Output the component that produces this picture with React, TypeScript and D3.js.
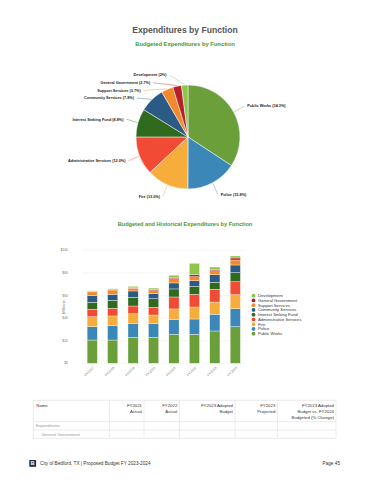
import React from 'react';
import * as d3 from 'd3';

const categories = ['Public Works', 'Police', 'Fire', 'Administrative Services', 'Interest Sinking Fund', 'Community Services', 'Support Services', 'General Government', 'Development'];
const colors = ['#6a9f3a', '#3b88b8', '#f7ad3c', '#f14b35', '#2f6a1f', '#2b5a85', '#f18a2d', '#b7202a', '#8dc54b'];
const piePercents = [34.3, 15.8, 13.0, 12.0, 8.8, 7.8, 3.7, 2.7, 2.0];
const pieLabelPcts = ['34.3%', '15.8%', '13.0%', '12.0%', '8.8%', '7.8%', '3.7%', '2.7%', '2%'];

const years = ['FY2017', 'FY2018', 'FY2019', 'FY2020', 'FY2021', 'FY2022', 'FY2023', 'FY2024'];
const publicWorks = [20.6, 20.6, 23.0, 23.0, 25.6, 25.6, 28.6, 32.4];
const police = [11.8, 12.7, 12.4, 12.0, 13.3, 13.6, 14.8, 15.9];
const fire = [8.8, 8.6, 8.5, 7.7, 9.2, 10.6, 10.8, 12.4];
const admin = [6.6, 6.8, 6.8, 6.9, 10.6, 11.3, 11.3, 11.5];
const interest = [6.2, 7.1, 7.7, 7.6, 7.1, 7.0, 6.2, 8.0];
const community = [5.8, 5.2, 5.6, 4.4, 5.3, 5.0, 6.7, 6.8];
const support = [3.4, 3.9, 2.4, 2.6, 3.8, 3.5, 3.5, 4.4];
const genGov = [0.5, 0.6, 0.9, 0.9, 1.2, 1.8, 1.3, 1.8];
const development = [0.4, 0.5, 0.8, 1.5, 1.8, 10.1, 2.0, 1.8];
const seriesValues = [publicWorks, police, fire, admin, interest, community, support, genGov, development];
const yTicks = [0, 20, 40, 60, 80, 100];

const tableHeaders = [['Name'], ['FY2021', 'Actual'], ['FY2022', 'Actual'], ['FY2023 Adopted', 'Budget'], ['FY2023', 'Projected'], ['FY2023 Adopted', 'Budget vs. FY2024', 'Budgeted (% Change)']];

const FONT = "'Liberation Sans', Arial, Helvetica, sans-serif";

function Pie() {
  const cx = 188, cy = 137, r = 52, labelR = 65, gap = 7.7;
  const arcs = d3.pie<number>().sort(null).value(d => d)(piePercents);
  const arcGen = d3.arc<d3.PieArcDatum<number>>().innerRadius(0).outerRadius(r);
  const items = arcs.map((a, i) => {
    const mid = (a.startAngle + a.endAngle) / 2;
    const side = Math.sin(mid) >= 0 ? 1 : -1;
    return { i, mid, side, y: cy - labelR * Math.cos(mid), x: 0 };
  });
  const left = items.filter(d => d.side < 0).sort((a, b) => a.y - b.y);
  let prev = cy - r - 10 - gap;
  left.forEach(d => { d.y = Math.max(d.y, prev + gap); prev = d.y; });
  items.forEach(d => {
    const dy = d.y - cy;
    d.x = cx + d.side * Math.sqrt(Math.max(0, labelR * labelR - dy * dy));
  });
  return (
    <g>
      <g transform={`translate(${cx},${cy})`}>
        {arcs.map((a, i) => (
          <path key={i} d={arcGen(a) || ''} fill={colors[i]} stroke="#fff" strokeWidth={0.5} />
        ))}
      </g>
      {items.map(d => {
        const px = cx + (r + 0.5) * Math.sin(d.mid);
        const py = cy - (r + 0.5) * Math.cos(d.mid);
        return (
          <g key={d.i}>
            <line x1={px} y1={py} x2={d.x - d.side * 1} y2={d.y} stroke={colors[d.i]} strokeWidth={0.4} />
            <text x={d.x + d.side * 2} y={d.y} dy="0.35em" textAnchor={d.side > 0 ? 'start' : 'end'}
              fontSize={3.8} fontWeight="bold" fill="#222" fontFamily={FONT}>
              {`${categories[d.i]} (${pieLabelPcts[d.i]})`}
            </text>
          </g>
        );
      })}
    </g>
  );
}

function Bars() {
  const x = d3.scaleBand<string>().domain(years).range([82, 245.5]).paddingInner(0.5).paddingOuter(0.25);
  const y = d3.scaleLinear().domain([0, 100]).range([363.3, 250.3]);
  const rows = years.map((yr, j) => {
    const o: any = { year: yr };
    categories.forEach((c, i) => { o[c] = seriesValues[i][j]; });
    return o;
  });
  const stack = d3.stack<any>().keys(categories)(rows);
  return (
    <g fontFamily={FONT}>
      {yTicks.map(t => (
        <g key={t}>
          <line x1={82} x2={245.5} y1={y(t)} y2={y(t)} stroke="#ececec" strokeWidth={0.5} />
          <text x={68} y={y(t)} dy="0.35em" textAnchor="end" fontSize={3.4} fill="#777">{`$${t}`}</text>
        </g>
      ))}
      <text transform={`translate(64,307) rotate(-90)`} textAnchor="middle" dy="0.35em" fontSize={4} fill="#666">Millions</text>
      {stack.map((s, i) => (
        <g key={i} fill={colors[i]}>
          {s.map((d, j) => (
            <rect key={j} x={x(years[j])} width={x.bandwidth()} y={y(d[1])} height={Math.max(0, y(d[0]) - y(d[1]))}
              stroke="#fff" strokeWidth={0.35} />
          ))}
        </g>
      ))}
      {years.map(yr => {
        const bx = (x(yr) || 0) + x.bandwidth() / 2;
        return (
          <text key={yr} transform={`translate(${bx + 2},${368}) rotate(-45)`} textAnchor="end" fontSize={3.4} fill="#777">{yr}</text>
        );
      })}
      {[...categories].reverse().map((c, k) => {
        const i = categories.length - 1 - k;
        const ly = 295.7 + k * 4.75;
        return (
          <g key={c}>
            <circle cx={253.5} cy={ly} r={1.9} fill={colors[i]} />
            <text x={258} y={ly} dy="0.35em" fontSize={4.2} fill="#333">{c}</text>
          </g>
        );
      })}
    </g>
  );
}

function Table() {
  const left = 33.3, right = 336;
  const cols = [left, 109.3, 144, 179.3, 235, 277.3, right];
  const rowsY = [400.3, 421.7, 430, 438.3];
  const lh = 6;
  return (
    <g fontFamily={FONT}>
      {rowsY.map((ry, i) => (
        <line key={i} x1={left} x2={right} y1={ry} y2={ry} stroke="#d4d4d4" strokeWidth={0.5} />
      ))}
      {cols.map((cx, i) => (
        <line key={i} x1={cx} x2={cx} y1={rowsY[0]} y2={rowsY[3]} stroke="#d4d4d4" strokeWidth={0.5} />
      ))}
      {tableHeaders.map((h, i) => (
        <text key={i} x={i === 0 ? cols[0] + 3 : cols[i + 1] - 2} y={405.7} dy="0.35em" textAnchor={i === 0 ? 'start' : 'end'} fontSize={4.3} fill="#333">
          {h.map((ln, k) => <tspan key={k} x={i === 0 ? cols[0] + 3 : cols[i + 1] - 2} dy={k === 0 ? '0.35em' : lh}>{ln}</tspan>)}
        </text>
      ))}
      <text x={36} y={426} dy="0.35em" fontSize={4.1} fill="#999">Expenditures</text>
      <text x={41.7} y={434.3} dy="0.35em" fontSize={4.1} fill="#999">General Government</text>
    </g>
  );
}

export default function App() {
  return (
    <svg width={370} height={480} viewBox="0 0 370 480" style={{ position: 'absolute', left: 0, top: 0, background: '#fff' }}>
      <rect width={370} height={480} fill="#fff" />
      <text x={185} y={30} textAnchor="middle" dy="0.35em" fontSize={8.6} fontWeight="bold" fill="#555" fontFamily={FONT}>Expenditures by Function</text>
      <text x={185} y={44} textAnchor="middle" dy="0.35em" fontSize={5.8} fontWeight="bold" fill="#3f9a36" fontFamily={FONT}>Budgeted Expenditures by Function</text>
      <Pie />
      <text x={185} y={224} textAnchor="middle" dy="0.35em" fontSize={5.6} fontWeight="bold" fill="#3f9a36" fontFamily={FONT}>Budgeted and Historical Expenditures by Function</text>
      <Bars />
      <Table />
      <g fontFamily={FONT}>
        <rect x={29.3} y={460} width={6.8} height={6.8} fill="#1f3150" />
        <text x={32.7} y={463.4} dy="0.36em" textAnchor="middle" fontSize={5.2} fontWeight="bold" fill="#fff">B</text>
        <text x={40} y={463.6} dy="0.35em" fontSize={4.7} fill="#333">City of Bedford, TX | Proposed Budget FY 2023-2024</text>
        <text x={340} y={463.6} dy="0.35em" textAnchor="end" fontSize={4.7} fill="#333">Page 45</text>
      </g>
    </svg>
  );
}
